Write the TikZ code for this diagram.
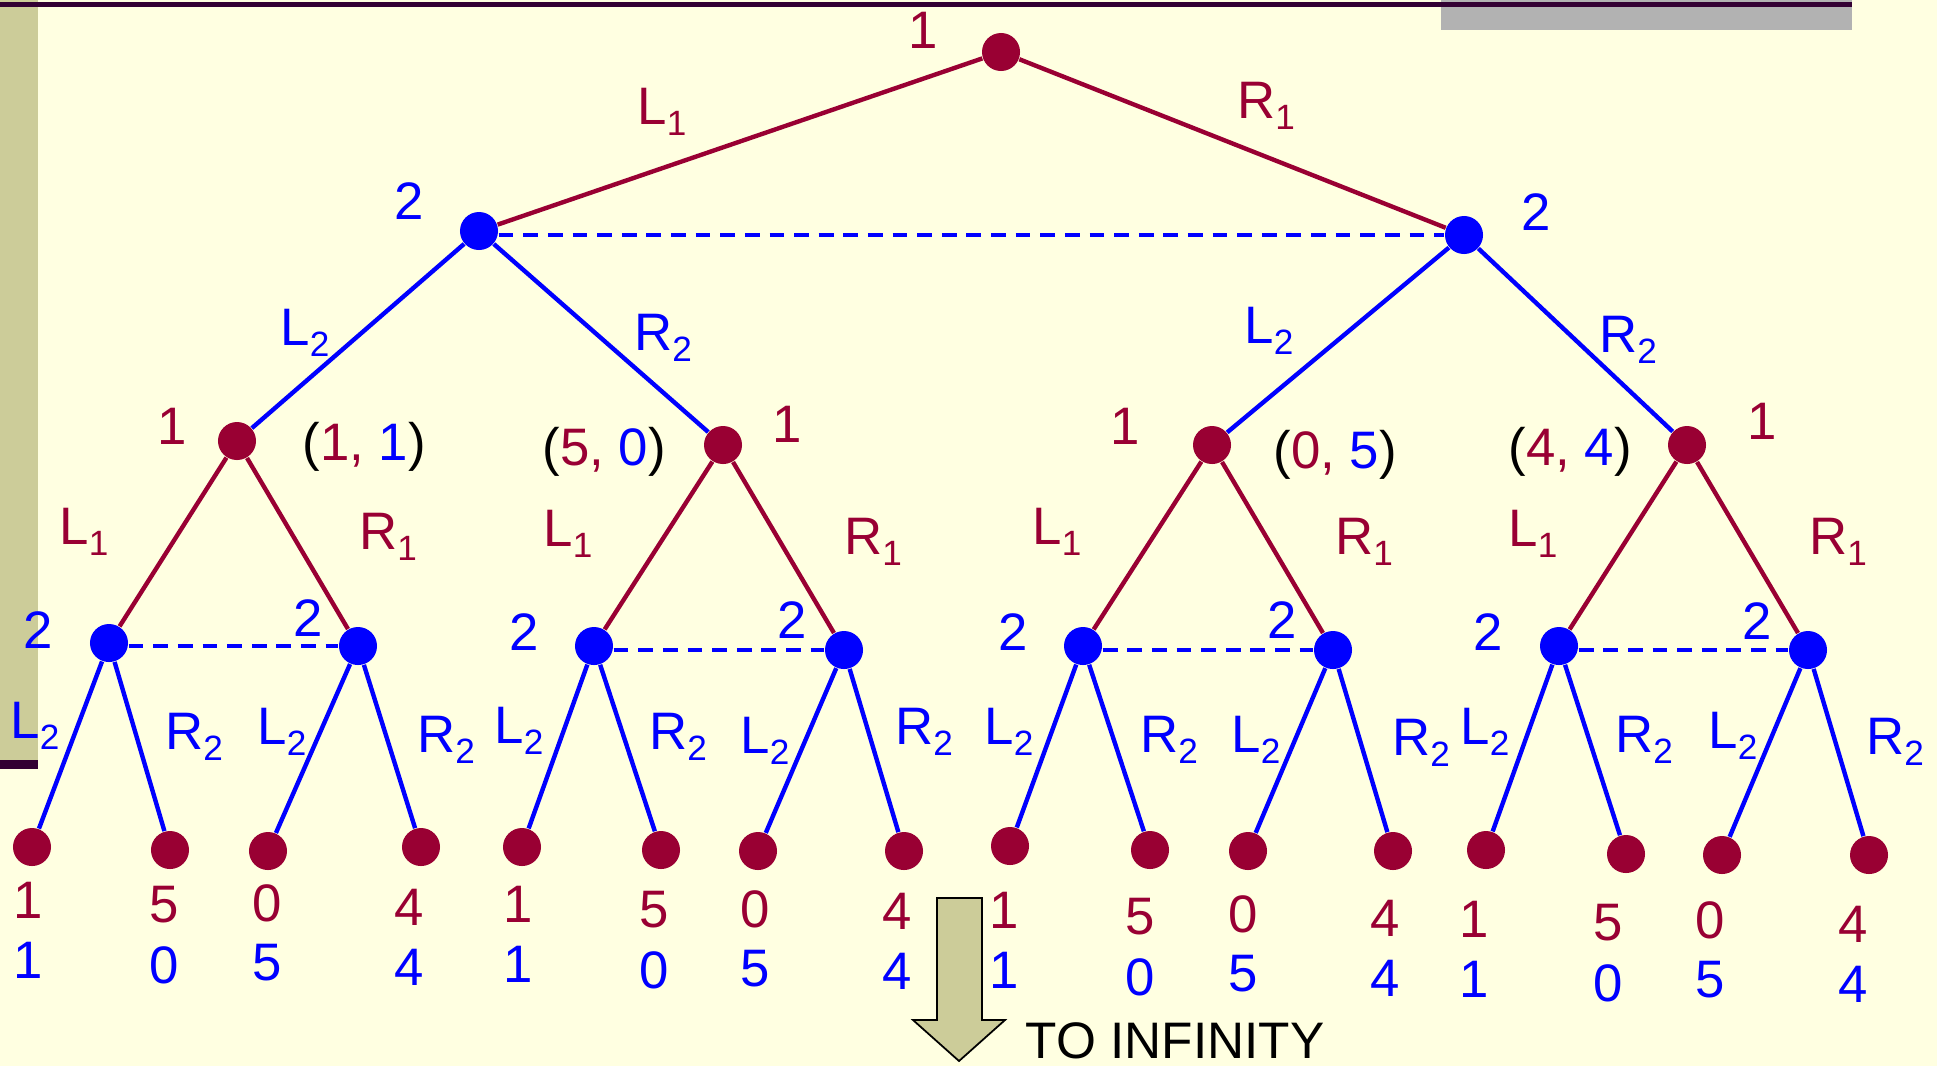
\documentclass[tikz,border=0pt]{standalone}
\usepackage{fontspec}
\setmainfont{Liberation Sans}
\usetikzlibrary{positioning,calc}
\definecolor{gamered}{RGB}{153,0,51}
\definecolor{gameblue}{RGB}{0,0,255}
\definecolor{slidebg}{RGB}{255,255,225}
\definecolor{slidekhaki}{RGB}{204,204,153}
\definecolor{slidegrey}{RGB}{178,178,178}
\definecolor{slidedark}{RGB}{51,0,51}
\newcommand{\sublab}[1]{\raisebox{-3.2pt}{\fontsize{10}{11}\selectfont #1}}
\tikzset{
    p1node/.style={circle, fill=gamered, inner sep=0pt, minimum size=0.38cm},
    p2node/.style={circle, fill=gameblue, inner sep=0pt, minimum size=0.38cm},
    redleg/.style={line width=1.25pt, gamered},
    blueleg/.style={line width=1.25pt, gameblue},
    infoset/.style={line width=1.25pt, gameblue, dash pattern=on 4.2pt off 2.8pt},
    redlab/.style={text=gamered, font=\fontsize{15}{18}\selectfont, inner sep=0pt},
    bluelab/.style={text=gameblue, font=\fontsize{15}{18}\selectfont, inner sep=0pt},
    pairlab/.style={text=black, font=\fontsize{15}{18}\selectfont, inner sep=0pt},
}

\begin{document}
\begin{tikzpicture}[x=0.01cm, y=-0.01cm]
    % slide background
    \fill[slidebg] (0,0) rectangle (1937,1066);
    \useasboundingbox (0,0) rectangle (1937,1066);
    \fill[slidekhaki] (0,0) rectangle (38,760);
    \fill[slidedark] (0,760) rectangle (38,769);
    \fill[slidegrey] (1441,0) rectangle (1852,30);
    \fill[slidedark] (0,2) rectangle (1852,7);

    % decision nodes
    \node[p1node] (root) at (1001, 52) {};
    \foreach \x/\y/\name in {479/231/b1, 1464/235/b2} {
        \node[p2node] (\name) at (\x, \y) {};
    }
    \foreach \x/\y/\name in {237/441/c1, 723/445/c2, 1212/445/c3, 1687/445/c4} {
        \node[p1node] (\name) at (\x, \y) {};
    }
    \foreach \x/\y/\name in {109/643/d1, 358/646/d2, 594/646/d3, 844/650/d4,
                             1083/646/d5, 1333/650/d6, 1559/646/d7, 1808/650/d8} {
        \node[p2node] (\name) at (\x, \y) {};
    }
    % terminal nodes
    \foreach \x/\y [count=\i] in {32/847, 170/850, 268/851, 421/847, 522/847, 661/850, 758/851, 904/851,
                                  1010/846, 1150/850, 1248/851, 1393/851, 1486/850, 1626/854, 1722/855, 1869/855} {
        \node[p1node] (e\i) at (\x, \y) {};
    }

    % moves
    \draw[redleg] (root) -- (b1);
    \draw[redleg] (root) -- (b2);
    \draw[blueleg] (b1) -- (c1);
    \draw[blueleg] (b1) -- (c2);
    \draw[blueleg] (b2) -- (c3);
    \draw[blueleg] (b2) -- (c4);
    \foreach \c/\l/\r in {c1/d1/d2, c2/d3/d4, c3/d5/d6, c4/d7/d8} {
        \draw[redleg] (\c) -- (\l);
        \draw[redleg] (\c) -- (\r);
    }
    \foreach \d/\l/\r in {d1/e1/e2, d2/e3/e4, d3/e5/e6, d4/e7/e8,
                          d5/e9/e10, d6/e11/e12, d7/e13/e14, d8/e15/e16} {
        \draw[blueleg] (\d) -- (\l);
        \draw[blueleg] (\d) -- (\r);
    }

    % information sets
    \draw[infoset] (b1.east |- b2.center) -- (b2.west);
    \foreach \l/\r in {d1/d2, d3/d4, d5/d6, d7/d8} {
        \draw[infoset] (\l.east |- \r.center) -- (\r.west);
    }

    % players
    \node[redlab] (who0) at (923, 30) {1};
    \node[bluelab] (whob1) at (409, 201) {2};
    \node[bluelab] (whob2) at (1536, 212) {2};
    \foreach \x/\y [count=\i] in {172/426, 787/424, 1125/426, 1762/421} {
        \node[redlab] (whoc\i) at (\x, \y) {1};
    }
    \foreach \x/\y [count=\i] in {38/630, 308/618, 524/632, 792/620, 1013/632, 1282/620, 1488/632, 1757/621} {
        \node[bluelab] (whod\i) at (\x, \y) {2};
    }

    % action labels
    \node[redlab] (act0l) at (662, 112) {L\sublab{1}};
    \node[redlab] (act0r) at (1266, 106) {R\sublab{1}};
    \foreach \x/\y/\a [count=\i] in {305/333/L, 663/338/R, 1269/331/L, 1628/340/R} {
        \node[bluelab] (actb\i) at (\x, \y) {\a\sublab{2}};
    }
    \foreach \x/\y/\a [count=\i] in {84/532/L, 388/537/R, 568/534/L, 873/542/R,
                                     1057/532/L, 1364/542/R, 1533/534/L, 1838/542/R} {
        \node[redlab] (actc\i) at (\x, \y) {\a\sublab{1}};
    }
    \foreach \x/\y/\a [count=\i] in {35/726/L, 194/737/R, 282/732/L, 446/740/R,
                                     519/731/L, 678/737/R, 765/741/L, 924/732/R,
                                     1009/732/L, 1169/740/R, 1256/740/L, 1421/743/R,
                                     1485/732/L, 1644/740/R, 1733/736/L, 1895/742/R} {
        \node[bluelab] (actd\i) at (\x, \y) {\a\sublab{2}};
    }

    % payoffs of the stage game
    \foreach \x/\y/\a/\b [count=\i] in {364/447/1/1, 604/452/5/0, 1335/455/0/5, 1570/452/4/4} {
        \node[pairlab] (pair\i) at (\x, \y) {(\textcolor{gamered}{\a,} \textcolor{gameblue}{\b})};
    }
    \foreach \x/\y/\a/\b [count=\i] in {28/900/1/1, 164/905/5/0, 267/903/0/5, 409/907/4/4,
                                        518/904/1/1, 654/910/5/0, 755/909/0/5, 897/911/4/4,
                                        1004/910/1/1, 1140/917/5/0, 1243/914/0/5, 1385/918/4/4,
                                        1474/919/1/1, 1608/923/5/0, 1710/920/0/5, 1853/924/4/4} {
        \node[redlab] (pay\i a) at (\x, \y) {\a};
        \node[bluelab] (pay\i b) at (\x, \y+60) {\b};
    }

    % to infinity
    \filldraw[fill=slidekhaki, draw=black, line width=0.5pt]
        (937,898) -- (982,898) -- (982,1020) -- (1005,1020) -- (959,1061)
        -- (913,1020) -- (937,1020) -- cycle;
    \node[pairlab, anchor=west, font=\fontsize{14.6}{17}\selectfont] (inf) at (1025, 1041) {TO INFINITY};
\end{tikzpicture}
\end{document}
